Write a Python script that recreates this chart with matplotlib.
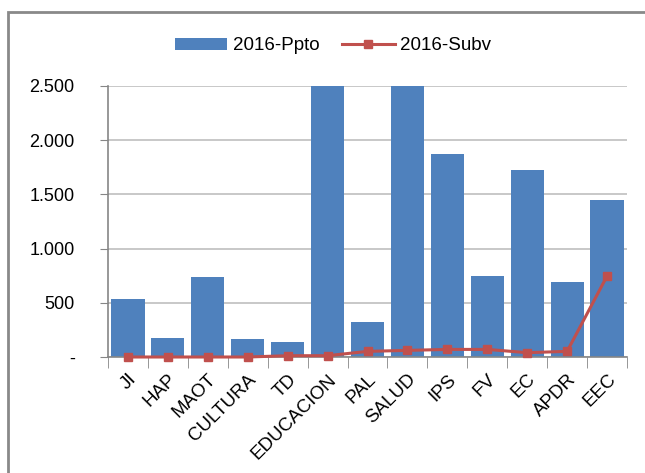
import numpy as np
import matplotlib.pyplot as plt
from matplotlib.patches import Rectangle

plt.rcParams['font.family'] = ['Liberation Sans', 'DejaVu Sans']

# datos
categorias = ['JI', 'HAP', 'MAOT', 'CULTURA', 'TD', 'EDUCACION', 'PAL', 'SALUD',
              'IPS', 'FV', 'EC', 'APDR', 'EEC']
ppto = [535, 175, 738, 166, 138, 3200, 323, 3900, 1873, 747, 1725, 692, 1448]
subv = [0, 0, 0, 0, 12, 12, 52, 61, 70, 70, 40, 52, 747]
yticks = [0, 500, 1000, 1500, 2000, 2500]
ytick_labels = ['-', '500', '1.000', '1.500', '2.000', '2.500']

azul = '#4F81BD'
rojo = '#C0504D'
gris = '#868686'

fig = plt.figure(figsize=(6.45, 4.73), dpi=100)
ax = fig.add_axes([108 / 645, 1 - 357 / 473, (627 - 108) / 645, (357 - 86) / 473])

x = np.arange(len(categorias))
barras = ax.bar(x, ppto, width=0.83, color=azul, label='2016-Ppto', zorder=2)
linea, = ax.plot(x, subv, color=rojo, lw=2.2, marker='s', ms=6, label='2016-Subv',
                 zorder=3, clip_on=False)

ax.set_xlim(-0.5, len(categorias) - 0.5)
ax.set_ylim(0, 2500)
ax.set_yticks(yticks)
ax.set_yticklabels(ytick_labels, fontsize=13)
ax.yaxis.grid(True, color='#BFBFBF', lw=1.2, zorder=0)
ax.tick_params(axis='y', length=6, color=gris, pad=18)

ax.set_xticks(x)
ax.set_xticklabels(categorias, rotation=45, ha='right', rotation_mode='anchor', fontsize=13.5)
ax.tick_params(axis='x', length=0, pad=10)
ax.set_xticks(np.arange(len(categorias) + 1) - 0.5, minor=True)
ax.tick_params(axis='x', which='minor', length=8, color=gris)

for s in ['top', 'right']:
    ax.spines[s].set_visible(False)
for s in ['left', 'bottom']:
    ax.spines[s].set_color(gris)
    ax.spines[s].set_linewidth(1.2)
ax.set_axisbelow(True)

fig.legend([barras, linea], ['2016-Ppto', '2016-Subv'], loc='center',
           bbox_to_anchor=(333 / 645, 1 - 46 / 473), ncol=2, frameon=False,
           fontsize=13.5, handlelength=2.8, handleheight=0.6, columnspacing=1.2,
           handletextpad=0.3)

# marco exterior del grafico
fig.patches.append(Rectangle((8 / 645, -0.1), 1.2, 1 - 12 / 473 + 0.1,
                             transform=fig.transFigure, fill=False,
                             edgecolor='#898989', lw=2))

fig.savefig('out.png', dpi=100)
